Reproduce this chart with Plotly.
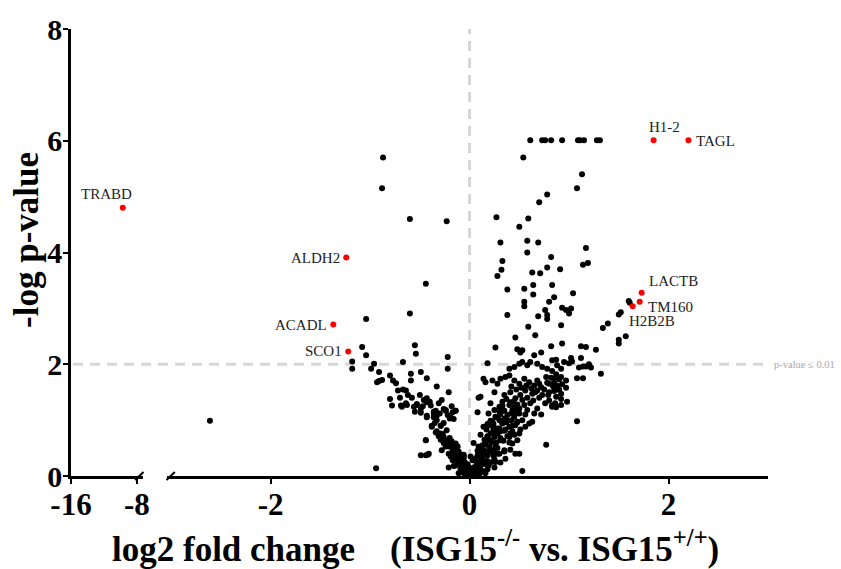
import plotly.graph_objects as go

# ---------------- data (log2 fold change, -log p-value) ----------------
cap_x = [0.61, 0.73, 0.76, 0.82, 0.93, 1.09, 1.11, 1.15, 1.28, 1.31]
cap_y = [6.01] * 10

upper_x = [-0.87, -0.88, -0.60, -0.23, -0.44, -0.60, -1.04,
           0.54, 1.13, 1.08, 0.78, 0.70, 0.27, 0.59, 0.50, 0.31, 0.58, 0.69, 0.58, 1.17,
           0.33, 0.82, 0.32, 0.28, 0.63, 0.71, 0.78, 0.91, 1.14, 1.19,
           0.38, 0.55, 0.64, 0.64, 0.83, 0.85, 1.04, 0.80, 0.55, 0.55, 0.93, 0.97, 1.02,
           1.00, 0.76, 0.78, 0.69, 0.38, 0.78, 0.92, 0.59, 0.66, 0.46,
           1.60, 1.61, 1.52, 1.50, 1.39, 1.34, 1.57, 1.50, 1.50]
upper_y = [5.70, 5.15, 4.60, 4.56, 3.44, 2.91, 2.81,
           5.70, 5.40, 5.15, 5.04, 4.90, 4.63, 4.61, 4.46, 4.18, 4.21, 4.18, 4.00, 4.08,
           3.85, 3.92, 3.69, 3.58, 3.64, 3.63, 3.73, 3.70, 3.78, 3.81,
           3.34, 3.35, 3.42, 3.25, 3.42, 3.20, 3.27, 3.12, 3.12, 3.04, 3.01, 2.97, 3.00,
           2.91, 2.97, 2.88, 2.86, 2.88, 2.81, 2.70, 2.67, 2.52, 2.48,
           3.13, 3.10, 2.93, 2.89, 2.73, 2.65, 2.50, 2.44, 2.37]

midleft_x = [-1.08, -1.18, -1.18, -1.04, -0.96, -0.99, -0.91, -0.88, -0.91, -0.93,
             -0.80, -0.77, -0.74, -0.72, -0.67, -0.64, -0.67, -0.55, -0.54, -0.59,
             -0.59, -0.49, -0.43, -0.33, -0.22, -0.22, -0.21]
midleft_y = [2.31, 2.05, 1.92, 2.16, 2.01, 1.92, 1.86, 1.72, 1.70, 1.68,
             1.80, 1.71, 1.66, 1.53, 1.55, 1.53, 2.04, 2.34, 2.19, 1.83,
             1.71, 1.86, 1.75, 1.60, 2.13, 1.92, 1.50]

midright_x = [0.26, 0.48, 0.51, 0.53, 0.72, 0.93, 0.18, 0.40, 0.45, 0.50, 0.53, 0.58,
              0.61, 0.68, 0.73, 0.78, 0.83, 0.88, 0.92, 0.95,
              0.14, 0.16, 0.23, 0.28, 0.31, 0.36, 0.40, 0.45, 0.50, 0.55, 0.60, 0.65,
              0.68, 0.72, 0.77, 0.80, 0.85, 0.88, 0.92, 0.97,
              0.82, 1.12, 1.17, 1.27, 1.02, 1.03, 1.00, 1.12, 1.14, 1.10, 1.17, 1.20,
              1.22, 1.32, 1.08, 1.14, 0.87, 0.83, 0.87, 0.82, 0.78, 0.85, 0.90, 0.93,
              0.97, 0.88, 0.85, 0.65, 0.09]
midright_y = [2.30, 2.27, 2.21, 2.25, 2.21, 2.37, 2.02, 1.92, 1.95, 2.01, 2.04, 1.98,
              2.04, 2.01, 1.95, 1.92, 2.07, 1.98, 1.92, 2.04,
              1.74, 1.68, 1.71, 1.65, 1.74, 1.77, 1.80, 1.71, 1.65, 1.74, 1.68, 1.62,
              1.71, 1.59, 1.77, 1.65, 1.74, 1.62, 1.77, 1.71,
              2.32, 2.32, 2.31, 2.26, 2.11, 2.05, 2.02, 2.11, 1.96, 1.94, 1.96, 2.00,
              1.94, 1.83, 1.75, 1.75, 2.08, 1.88, 1.82, 1.76, 1.67, 1.67, 1.73, 1.64,
              1.58, 1.55, 1.52, 2.16, 1.40]

lowright_x = [0.11, 0.25, 0.35, 0.41, 0.46, 0.51, 0.56, 0.63, 0.68, 0.73, 0.80, 0.87, 0.92,
              0.21, 0.30, 0.33, 0.40, 0.43, 0.50, 0.55, 0.61, 0.68, 0.83, 0.92,
              0.19, 0.26, 0.30, 0.35, 0.38, 0.45, 0.50, 0.53, 0.60, 0.63,
              0.14, 0.21, 0.28, 0.33, 0.40, 0.46, 0.51, 0.56,
              0.11, 0.18, 0.25, 0.31, 0.38, 0.45,
              0.77, 0.04, 0.09, 0.16, 0.21, 0.28, 0.35, 0.41, 0.50,
              -0.06, 0.01, 0.06, 0.13, 0.18, 0.25, 0.31,
              -0.02, 0.04, 0.11, 0.18, 0.25, 0.53, -0.06, 0.01, 0.08,
              0.92, 0.98, 0.83, 0.87, 1.08,
              0.06, 0.08, 0.09, 0.13, 0.16, 0.18, 0.21, 0.24, 0.18, 0.21, 0.28, 0.31,
              0.35, 0.33, 0.41, 0.45, 0.38, 0.43, 0.48, 0.35, 0.40, 0.31, 0.26, 0.23,
              0.18, 0.14, 0.11, 0.06, 0.03, 0.13, 0.28, 0.35, 0.43, 0.48, 0.46, 0.36,
              0.26, 0.19, 0.09, 0.21, 0.28, 0.24, 0.41, 0.50,
              0.00, 0.02, 0.05, 0.04, 0.07, 0.10, 0.12, 0.15, 0.20, 0.22, 0.25, 0.30,
              0.33, 0.36, 0.16, 0.24, 0.12, 0.19]
lowright_y = [1.42, 1.50, 1.45, 1.50, 1.39, 1.45, 1.53, 1.47, 1.53, 1.45, 1.50, 1.42, 1.47,
              1.30, 1.24, 1.33, 1.27, 1.18, 1.21, 1.27, 1.30, 1.21, 1.24, 1.27,
              1.12, 1.06, 1.15, 1.03, 1.09, 1.06, 1.12, 1.00, 0.94, 0.97,
              0.88, 0.91, 0.85, 0.94, 0.88, 0.91, 0.83, 0.88,
              0.74, 0.71, 0.77, 0.68, 0.71, 0.74,
              0.56, 0.59, 0.53, 0.56, 0.47, 0.50, 0.44, 0.47, 0.40,
              0.38, 0.35, 0.30, 0.32, 0.27, 0.30, 0.24,
              0.18, 0.15, 0.18, 0.12, 0.15, 0.09, 0.06, 0.03, 0.07,
              1.38, 1.33, 1.26, 1.23, 0.98,
              0.31, 0.37, 0.46, 0.55, 0.61, 0.70, 0.76, 0.81, 0.93, 0.99, 1.05, 1.11,
              1.17, 1.26, 1.32, 1.23, 0.99, 0.90, 0.96, 0.81, 0.70, 0.64, 0.52, 0.43,
              0.37, 0.28, 0.19, 0.14, 0.08, 0.40, 0.40, 0.46, 0.58, 0.64, 0.40, 0.31,
              0.25, 0.19, 0.11, 0.64, 0.76, 0.93, 0.76, 0.76,
              0.02, 0.05, 0.06, 0.12, 0.20, 0.25, 0.34, 0.45, 0.52, 0.60, 0.70, 0.85,
              0.95, 1.02, 0.22, 0.36, 0.26, 0.44]

dense_x = [0.42, 0.47, 0.52, 0.57, 0.62, 0.66, 0.70, 0.75, 0.79, 0.84, 0.90,
           0.37, 0.44, 0.48, 0.53, 0.58, 0.64, 0.70, 0.76, 0.80, 0.86,
           0.25, 0.33, 0.42, 0.47, 0.56, 0.58, 0.65, 0.72,
           0.23, 0.30, 0.37, 0.42, 0.48, 0.17, 0.24, 0.31, 0.36, 0.43,
           0.15, 0.21, 0.27, 0.34, 0.40, 0.08, 0.12, 0.19, 0.24, 0.30,
           0.03, 0.09, 0.15, 0.21, 0.02, 0.06, 0.13, 0.16, 0.10, 0.05, -0.03,
           -0.30, -0.26, -0.35, -0.23, -0.27, -0.20, -0.22, -0.18, -0.15, -0.13,
           -0.10, -0.08, -0.05, -0.07, -0.11, -0.05, -0.50, -0.62, -0.70, -0.47,
           -0.55, -0.31, -0.18]
dense_y = [1.60, 1.55, 1.58, 1.62, 1.57, 1.50, 1.65, 1.55, 1.45, 1.60, 1.55,
           1.38, 1.33, 1.28, 1.36, 1.40, 1.35, 1.40, 1.30, 1.35, 1.30,
           1.18, 1.20, 1.12, 1.15, 1.10, 1.18, 1.12, 1.10,
           0.98, 1.00, 0.96, 1.00, 0.97, 0.83, 0.86, 0.80, 0.83, 0.80,
           0.65, 0.62, 0.60, 0.63, 0.60, 0.45, 0.48, 0.42, 0.44, 0.40,
           0.28, 0.26, 0.22, 0.24, 0.12, 0.10, 0.09, 0.05, 0.03, 0.01, 0.01,
           1.12, 0.95, 0.95, 0.82, 0.75, 0.68, 0.60, 0.55, 0.50, 0.36,
           0.33, 0.28, 0.25, 0.07, 0.05, 0.03, 1.45, 1.45, 1.40, 1.25,
           1.15, 1.30, 1.25]

lowleft_x = [-0.58, -0.43, -0.40, -0.46, -0.64, -0.68, -0.63, -0.56, -0.53, -0.28,
             -0.49, -0.43, -0.36, -0.34, -0.33, -0.24, -0.22, -0.20, -0.14, -0.38,
             -0.29, -0.33, -0.31, -0.29, -0.26, -0.24, -0.44, -0.21, -0.16, -0.12,
             -0.49, -0.42, -0.19, -0.14, -0.11, -0.07, -0.04, -0.21, -0.94, -0.02,
             0.01, -0.14, -0.17, -0.11, -0.08, -0.06, -0.12, -0.02, -0.01, -0.16,
             -0.09, -0.80, -0.78, -0.69, -0.53, -0.49, -0.39, -0.36, -0.26, -2.61,
             -0.43, -0.34, -0.33, -0.36, -0.43, -0.24, -0.17, -0.14, -0.16, -0.19,
             -0.38, -0.29, -0.34, -0.29, -0.26, -0.22, -0.19, -0.24, -0.17, -0.28,
             -0.21, -0.16, -0.12, -0.09, -0.06, -0.02, 0.01, -0.07, -0.14, -0.17,
             -0.11, -0.06, -0.44, -0.44, -0.41, 0.08, -0.06,
             -0.03, -0.05, -0.08, -0.10, -0.13, -0.04, -0.15, -0.18]
lowleft_y = [1.40, 1.39, 1.33, 1.36, 1.30, 1.24, 1.27, 1.24, 1.27, 1.36,
             1.13, 1.05, 1.15, 1.06, 1.00, 1.18, 1.09, 1.03, 1.17, 0.88,
             0.90, 0.80, 0.71, 0.65, 0.59, 0.53, 0.64, 0.53, 0.44, 0.53,
             0.37, 0.38, 0.35, 0.30, 0.27, 0.21, 0.15, 0.15, 0.14, 0.09,
             0.06, 0.58, 0.47, 0.44, 0.38, 0.32, 0.24, 0.21, 0.15, 0.18,
             0.12, 1.38, 1.26, 1.26, 1.29, 1.20, 1.26, 1.11, 1.20, 0.99,
             1.32, 1.17, 1.08, 1.05, 1.08, 1.17, 1.14, 1.17, 1.02, 1.05,
             0.90, 0.90, 0.78, 0.76, 0.70, 0.64, 0.58, 0.55, 0.49, 0.46,
             0.40, 0.37, 0.31, 0.25, 0.19, 0.14, 0.08, 0.14, 0.19, 0.28,
             0.40, 0.34, 0.64, 0.37, 0.40, 1.14, 0.37,
             0.04, 0.10, 0.16, 0.22, 0.34, 0.08, 0.40, 0.62]

# highlighted proteins
hit_names = ["ALDH2", "ACADL", "SCO1", "H1-2", "TAGL", "LACTB", "TM160", "H2B2B"]
hit_x = [-1.24, -1.37, -1.22, 1.85, 2.20, 1.73, 1.71, 1.64]
hit_y = [3.91, 2.71, 2.23, 6.01, 6.01, 3.28, 3.12, 3.04]
far_name = ["TRABD"]
far_x = [-9.7]
far_y = [4.80]

x_ticks_far = [-16, -8]
x_ticks_far_text = ["-16", "-8"]
x_ticks_near = [-2, 0, 2]
x_ticks_near_text = ["-2", "0", "2"]
y_ticks = [0, 2, 4, 6, 8]

# ---------------- figure ----------------
all_x = cap_x + upper_x + midleft_x + midright_x + lowright_x + dense_x + lowleft_x
all_y = cap_y + upper_y + midleft_y + midright_y + lowright_y + dense_y + lowleft_y

SERIF = "Liberation Serif, Times New Roman, serif"
fig = go.Figure()
fig.add_trace(go.Scatter(x=all_x, y=all_y, mode="markers", xaxis="x2", yaxis="y",
                         marker=dict(color="black", size=6), showlegend=False))
fig.add_trace(go.Scatter(x=hit_x, y=hit_y, mode="markers", xaxis="x2", yaxis="y",
                         marker=dict(color="#ff0000", size=6), showlegend=False))
fig.add_trace(go.Scatter(x=far_x, y=far_y, mode="markers", xaxis="x", yaxis="y",
                         marker=dict(color="#ff0000", size=6), showlegend=False))

axis_common = dict(showline=True, linecolor="black", linewidth=2.5, ticks="outside",
                   ticklen=5, tickwidth=2, tickcolor="black", showgrid=False,
                   zeroline=False)
x_tick_font = dict(family=SERIF, size=31, color="black", weight="bold")
y_tick_font = dict(family=SERIF, size=30, color="black", weight="bold")

fig.update_layout(
    width=841, height=569,
    margin=dict(l=71, r=73, t=24, b=93),
    paper_bgcolor="white", plot_bgcolor="white",
    xaxis=dict(domain=[0, 0.103], range=[-16, -7.27], tickvals=x_ticks_far,
               ticktext=x_ticks_far_text, anchor="y", ticklabelstandoff=-6,
               tickfont=x_tick_font, **axis_common),
    xaxis2=dict(domain=[0.138, 1], range=[-3.04, 3.0], tickvals=x_ticks_near,
                ticktext=x_ticks_near_text, anchor="y", ticklabelstandoff=-6,
                tickfont=x_tick_font, **axis_common),
    yaxis=dict(range=[0, 8], tickvals=y_ticks, anchor="x", ticklabelstandoff=-5,
               tickfont=y_tick_font, **axis_common),
)

# reference lines
fig.add_shape(type="line", xref="x2", yref="y", x0=0, x1=0, y0=0, y1=8,
              line=dict(color="#d6d6d6", width=3, dash="10px,7px"), layer="below")
fig.add_shape(type="line", xref="paper", yref="y", x0=0.003, x1=0.995, y0=2, y1=2,
              line=dict(color="#d6d6d6", width=3, dash="10px,7px"), layer="below")
fig.add_annotation(xref="paper", yref="y", x=1.006, y=2, text="p-value ≤ 0.01",
                   showarrow=False, xanchor="left", yanchor="middle",
                   font=dict(family=SERIF, size=10.5, color="#a8a8a8"))

# axis break marks
for xa, xb in [(0.092, 0.104), (0.137, 0.149)]:
    fig.add_shape(type="line", xref="paper", yref="paper", x0=xa, x1=xb,
                  y0=-0.009, y1=0.009, line=dict(color="black", width=2))

# labels of highlighted proteins
lab_font = dict(family=SERIF, size=15, color="#222222")
offsets = {
    "ALDH2": ("right", "middle", -4, 0),
    "ACADL": ("right", "middle", -4, 0),
    "SCO1": ("right", "middle", -4, 0),
    "H1-2": ("center", "bottom", 11, 3),
    "TAGL": ("left", "middle", 6, -1),
    "LACTB": ("left", "bottom", 5, 2),
    "TM160": ("left", "middle", 6, -5),
    "H2B2B": ("left", "middle", -6, -15),
}
for n, xv, yv in zip(hit_names, hit_x, hit_y):
    xa, ya, dx, dy = offsets[n]
    fig.add_annotation(xref="x2", yref="y", x=xv, y=yv, text=n, showarrow=False,
                       xanchor=xa, yanchor=ya, xshift=dx, yshift=dy, font=lab_font)
for n, xv, yv in zip(far_name, far_x, far_y):
    fig.add_annotation(xref="x", yref="y", x=xv, y=yv, text=n, showarrow=False,
                       xanchor="center", yanchor="bottom", xshift=-16, yshift=4,
                       font=lab_font)

# axis titles
fig.add_annotation(xref="paper", yref="paper", x=0.494, y=-0.158,
                   text="log2 fold change &nbsp;&nbsp;&nbsp;(ISG15<sup>-/-</sup> vs. ISG15<sup>+/+</sup>)",
                   showarrow=False, xanchor="center", yanchor="middle",
                   font=dict(family=SERIF, size=35, color="black", weight="bold"))
fig.add_annotation(xref="paper", yref="paper", x=-0.064, y=0.529, text="-log p-value",
                   textangle=-90, showarrow=False, xanchor="center", yanchor="middle",
                   font=dict(family=SERIF, size=35, color="black", weight="bold"))

fig.write_html("out.html", config={"displayModeBar": False})

# remove the browser's default page margin so the figure sits at the window corner
with open("out.html", "r", encoding="utf-8") as f:
    html = f.read()
html = html.replace("<body>", '<body style="margin:0;padding:0;overflow:hidden">', 1)
with open("out.html", "w", encoding="utf-8") as f:
    f.write(html)
